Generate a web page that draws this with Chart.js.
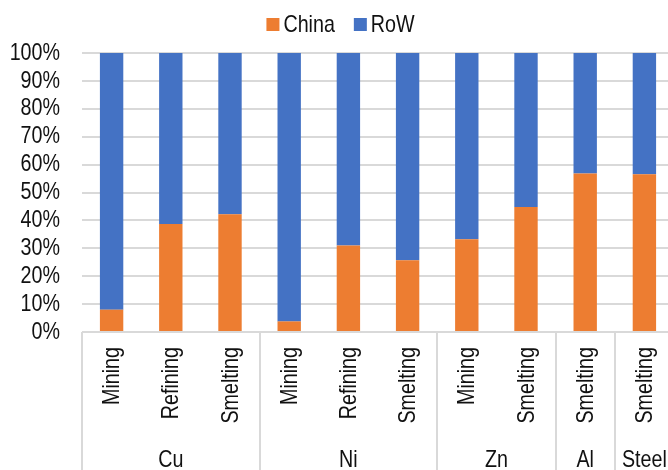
<!DOCTYPE html>
<html>
<head>
<meta charset="utf-8">
<script src="https://cdn.jsdelivr.net/npm/chart.js@4.4.1/dist/chart.umd.min.js"></script>
<style>
  html, body { margin: 0; padding: 0; background: #fff; overflow: hidden; }
  #wrap { position: relative; width: 674px; height: 470px; }
</style>
</head>
<body>
<div id="wrap"><canvas id="c" width="674" height="470"></canvas></div>
<script>
// Processing stage for each bar, and the metal group each run of bars belongs to
const stages = ['Mining', 'Refining', 'Smelting', 'Mining', 'Refining', 'Smelting', 'Mining', 'Smelting', 'Smelting', 'Smelting'];
const metals = ['Cu', 'Ni', 'Zn', 'Al', 'Steel'];
const metalSpan = [3, 3, 2, 1, 1];

// Share of global capacity, percent
const chinaShare = [8.0, 38.7, 42.2, 3.8, 31.0, 25.7, 33.2, 44.8, 56.8, 56.5];
const rowShare   = [92.0, 61.3, 57.8, 96.2, 69.0, 74.3, 66.8, 55.2, 43.2, 43.5];

const yTickValues = [0, 10, 20, 30, 40, 50, 60, 70, 80, 90, 100];
const yTickLabels = ['0%', '10%', '20%', '30%', '40%', '50%', '60%', '70%', '80%', '90%', '100%'];

const FONT = "'Liberation Sans', Arial, sans-serif";
const FONT_SIZE = 24;
const NARROW = 0.82;          // horizontal squeeze for a condensed look
const TEXT = '#111111';
const RULE = '#d9d9d9';

// Draw condensed text; angle rotates the baseline (radians)
function narrowText(ctx, str, x, y, align, baseline, angle) {
  ctx.save();
  ctx.translate(x, y);
  if (angle) ctx.rotate(angle);
  ctx.scale(NARROW, 1);
  ctx.textAlign = align;
  ctx.textBaseline = baseline;
  ctx.fillText(str, 0, 0);
  ctx.restore();
}

// Percent tick labels, two-level category axis (stage / metal), dividers and legend
const chartText = {
  id: 'chartText',
  afterDraw(chart) {
    const ctx = chart.ctx;
    const x = chart.scales.x;
    const y = chart.scales.y;
    const area = chart.chartArea;
    const step = x.width / stages.length;

    ctx.save();
    ctx.font = FONT_SIZE + 'px ' + FONT;
    ctx.fillStyle = TEXT;

    // y tick labels
    yTickValues.forEach((v, i) => {
      narrowText(ctx, yTickLabels[i], area.left - 22, y.getPixelForValue(v), 'right', 'middle');
    });

    // group dividers below the axis
    ctx.strokeStyle = RULE;
    ctx.lineWidth = 2;
    const edges = [0];
    metalSpan.reduce((acc, n) => { edges.push(acc + n); return acc + n; }, 0);
    edges.forEach(i => {
      const px = Math.round(x.getPixelForValue(0) - step / 2 + i * step);
      ctx.beginPath();
      ctx.moveTo(px, area.bottom);
      ctx.lineTo(px, chart.height);
      ctx.stroke();
    });

    // stage labels, reading bottom to top
    stages.forEach((s, i) => {
      narrowText(ctx, s, x.getPixelForValue(i) + 1, area.bottom + 15, 'right', 'middle', -Math.PI / 2);
    });

    // metal labels
    let first = 0;
    metals.forEach((m, g) => {
      const last = first + metalSpan[g] - 1;
      const cx = (x.getPixelForValue(first) + x.getPixelForValue(last)) / 2;
      narrowText(ctx, m, cx, 467, 'center', 'alphabetic');
      first = last + 1;
    });

    // legend
    const items = chart.data.datasets.map(d => ({ text: d.label, color: d.backgroundColor }));
    const box = 13, gapText = 4, gapItem = 19;
    const widths = items.map(it => ctx.measureText(it.text).width * NARROW);
    const total = widths.reduce((acc, w) => acc + box + gapText + w, 0) + gapItem * (items.length - 1);
    let lx = 340.5 - total / 2;
    items.forEach((it, i) => {
      ctx.fillStyle = it.color;
      ctx.fillRect(lx, 18, box, 13);
      ctx.fillStyle = TEXT;
      narrowText(ctx, it.text, lx + box + gapText, 25, 'left', 'middle');
      lx += box + gapText + widths[i] + gapItem;
    });
    ctx.restore();
  }
};

new Chart(document.getElementById('c'), {
  type: 'bar',
  data: {
    labels: stages,
    datasets: [
      { label: 'China', data: chinaShare, backgroundColor: '#ED7D31' },
      { label: 'RoW',   data: rowShare,   backgroundColor: '#4472C4' }
    ]
  },
  options: {
    responsive: false,
    animation: false,
    devicePixelRatio: 1,
    layout: { padding: { left: 82, top: 53, right: 0, bottom: 138 } },
    datasets: { bar: { categoryPercentage: 1, barPercentage: 0.395, borderWidth: 0 } },
    plugins: { legend: { display: false }, tooltip: { enabled: false } },
    scales: {
      x: { stacked: true, display: false },
      y: {
        stacked: true,
        min: 0,
        max: 100,
        border: { display: false },
        grid: { color: RULE, lineWidth: 2, drawTicks: false },
        ticks: { stepSize: 10, autoSkip: false, display: false }
      }
    }
  },
  plugins: [chartText]
});
</script>
</body>
</html>
